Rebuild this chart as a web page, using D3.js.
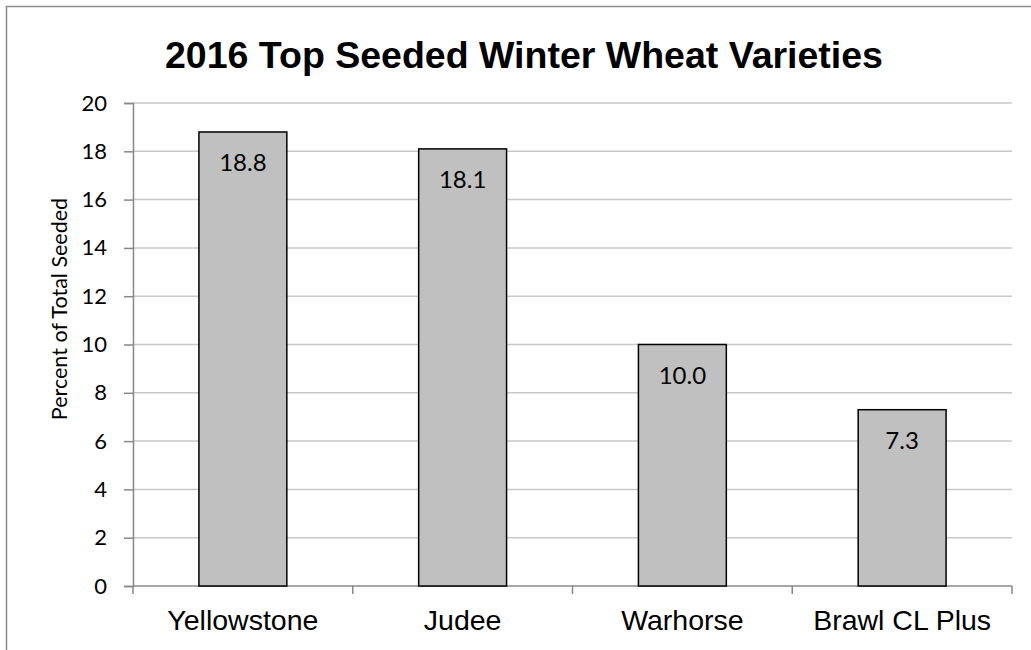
<!DOCTYPE html>
<html>
<head>
<meta charset="utf-8">
<script src="https://cdn.jsdelivr.net/npm/d3@7"></script>
<style>
  body { margin: 0; background: #fff; }
  svg { display: block; }
</style>
</head>
<body>
<svg id="chart" width="1031" height="650"></svg>
<script>
// chart data
var categories = ["Yellowstone", "Judee", "Warhorse", "Brawl CL Plus"];
var percents = [18.8, 18.1, 10.0, 7.3];
var yTicks = [0, 2, 4, 6, 8, 10, 12, 14, 16, 18, 20];
var chartTitle = "2016 Top Seeded Winter Wheat Varieties";
var yTitle = "Percent of Total Seeded";

var margin = { left: 133, right: 19, top: 103, bottom: 64 };
var W = 1031, H = 650;

var svg = d3.select("#chart");

svg.append("rect")
    .attr("x", 6.5).attr("y", 6.5)
    .attr("width", 1040).attr("height", 660)
    .attr("fill", "#fff")
    .attr("stroke", "#8c8c8c")
    .attr("stroke-width", 1.5);

var x = d3.scaleBand()
    .domain(categories)
    .range([margin.left, W - margin.right])
    .paddingInner(0.6)
    .paddingOuter(0.3);

var y = d3.scaleLinear()
    .domain([0, 20])
    .range([H - margin.bottom, margin.top]);

// gridlines
svg.append("g")
    .selectAll("line")
    .data(yTicks.filter(function (d) { return d > 0; }))
    .join("line")
    .attr("x1", margin.left).attr("x2", W - margin.right)
    .attr("y1", function (d) { return y(d); })
    .attr("y2", function (d) { return y(d); })
    .attr("stroke", "#c8c8c8")
    .attr("stroke-width", 1.5);

// y axis
var yAxis = svg.append("g")
    .attr("transform", "translate(" + margin.left + ",0)")
    .call(d3.axisLeft(y).tickValues(yTicks).tickSize(9).tickPadding(17));
yAxis.select(".domain").attr("stroke", "#888").attr("stroke-width", 1.5);
yAxis.selectAll(".tick line").attr("stroke", "#888").attr("stroke-width", 1.5);
yAxis.selectAll(".tick text")
    .attr("fill", "#000")
    .style("font-family", "Lato, 'Open Sans', sans-serif")
    .style("font-size", "22px");

// x axis: ticks sit between categories
var xAxisY = y(0);
var bounds = d3.range(categories.length + 1).map(function (i) {
    return margin.left + i * x.step();
});
svg.append("line")
    .attr("x1", margin.left).attr("x2", W - margin.right)
    .attr("y1", xAxisY).attr("y2", xAxisY)
    .attr("stroke", "#888").attr("stroke-width", 1.5);
svg.append("g")
    .selectAll("line")
    .data(bounds)
    .join("line")
    .attr("x1", function (d) { return d; })
    .attr("x2", function (d) { return d; })
    .attr("y1", xAxisY).attr("y2", xAxisY + 8)
    .attr("stroke", "#888").attr("stroke-width", 1.5);

svg.append("g")
    .selectAll("text")
    .data(categories)
    .join("text")
    .attr("x", function (d) { return x(d) + x.bandwidth() / 2; })
    .attr("y", 630)
    .attr("text-anchor", "middle")
    .style("font-family", "'Liberation Sans', Arial, sans-serif")
    .style("font-size", "28.5px")
    .text(function (d) { return d; });

// bars
svg.append("g")
    .selectAll("rect")
    .data(percents)
    .join("rect")
    .attr("x", function (d, i) { return x(categories[i]); })
    .attr("y", function (d) { return y(d); })
    .attr("width", x.bandwidth())
    .attr("height", function (d) { return y(0) - y(d); })
    .attr("fill", "#c0c0c0")
    .attr("stroke", "#000")
    .attr("stroke-width", 1.5);

// value labels
svg.append("g")
    .selectAll("text")
    .data(percents)
    .join("text")
    .attr("x", function (d, i) { return x(categories[i]) + x.bandwidth() / 2; })
    .attr("y", function (d) { return y(d) + 39; })
    .attr("text-anchor", "middle")
    .style("font-family", "Lato, 'Open Sans', sans-serif")
    .style("font-size", "24px")
    .text(function (d) { return d.toFixed(1); });

// titles
svg.append("text")
    .attr("x", 524).attr("y", 68)
    .attr("text-anchor", "middle")
    .style("font-family", "'Liberation Sans', Arial, sans-serif")
    .style("font-weight", "bold")
    .style("font-size", "37.5px")
    .text(chartTitle);

// excel puts the axis title a bit above the plot's middle
svg.append("text")
    .attr("transform", "translate(67,309) rotate(-90)")
    .attr("text-anchor", "middle")
    .style("font-family", "Lato, 'Open Sans', sans-serif")
    .style("font-size", "21.5px")
    .text(yTitle);
</script>
</body>
</html>
